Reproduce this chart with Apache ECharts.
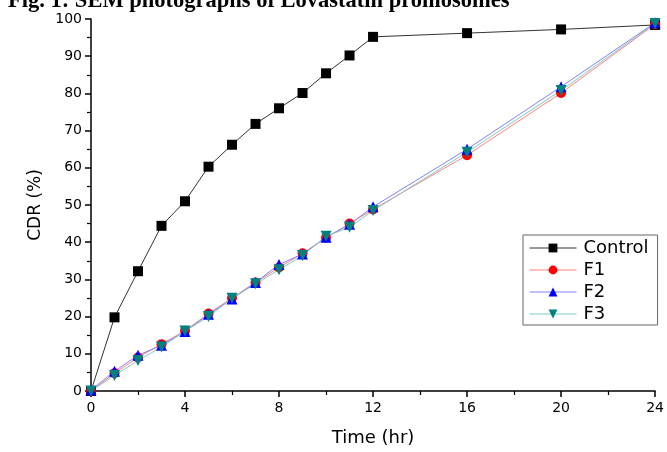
<!DOCTYPE html>
<html>
<head>
<meta charset="utf-8">
<script src="https://cdn.jsdelivr.net/npm/echarts@6/dist/echarts.min.js"></script>
<style>html,body{margin:0;padding:0;background:#fff}#c{width:667px;height:452px}</style>
</head>
<body>
<div id="c"></div>
<script>
const times = [0, 1, 2, 3, 4, 5, 6, 7, 8, 9, 10, 11, 12, 16, 20, 24];
const control = [0, 19.8, 32.2, 44.4, 51.0, 60.3, 66.2, 71.8, 76.0, 80.1, 85.4, 90.2, 95.2, 96.2, 97.2, 98.4];
const f1 = [0, 4.8, 9.0, 12.6, 16.2, 20.8, 25.0, 29.2, 33.2, 37.0, 41.2, 45.0, 48.8, 63.4, 80.1, 98.6];
const f2 = [0.3, 5.3, 9.6, 12.3, 16.0, 20.6, 24.7, 29.2, 34.0, 36.8, 41.3, 44.8, 49.5, 65.0, 81.8, 99.0];
const f3 = [0, 4.2, 8.2, 11.8, 16.1, 20.0, 24.9, 28.8, 32.6, 36.4, 41.6, 44.0, 48.5, 64.2, 80.8, 98.8];
const seriesNames = ['Control', 'F1', 'F2', 'F3'];
const titleText = 'Fig. 1: SEM photographs of Lovastatin proniosomes';

const FONT = '"DejaVu Sans", Verdana, sans-serif';
const pairs = arr => times.map((t, i) => [t, arr[i]]);
const styles = [
  {line: '#333333', mark: '#000000', symbol: 'rect', size: 10},
  {line: '#ff8080', mark: '#ff0000', symbol: 'circle', size: 10},
  {line: '#8080ff', mark: '#0000ff', symbol: 'triangle', size: 11},
  {line: '#80c8c0', mark: '#008080', symbol: 'path://M0,0 L10,0 L5,9 Z', size: 11}
];
const datas = [control, f1, f2, f3];

const chart = echarts.init(document.getElementById('c'), null, {renderer: 'canvas'});
chart.setOption({
  animation: false,
  backgroundColor: '#fff',
  grid: {left: 91, right: 11, top: 19, bottom: 57},
  graphic: [{
    type: 'text', left: 8, top: -10,
    style: {text: titleText, font: 'bold 22.5px "Liberation Serif", "Times New Roman", serif', fill: '#000'}
  }],
  legend: {
    orient: 'vertical',
    left: 523, top: 235,
    padding: [4, 9, 2, 6],
    itemWidth: 47, itemHeight: 11, itemGap: 4,
    borderColor: '#666', borderWidth: 1,
    backgroundColor: '#fff',
    lineStyle: {width: 1},
    textStyle: {fontFamily: FONT, fontSize: 18, color: '#000', padding: [0, 0, 0, 2]},
    data: seriesNames
  },
  xAxis: {
    type: 'value', min: 0, max: 24, interval: 4,
    name: 'Time (hr)', nameLocation: 'middle', nameGap: 38,
    nameTextStyle: {fontFamily: FONT, fontSize: 18, color: '#000'},
    axisLine: {show: true, onZero: false, lineStyle: {color: '#000', width: 1.5}},
    axisTick: {show: true, inside: false, length: 6, lineStyle: {color: '#000', width: 1.5}},
    minorTick: {show: true, splitNumber: 2, length: 4, lineStyle: {color: '#000', width: 1.2}},
    axisLabel: {fontFamily: FONT, fontSize: 14, color: '#000', margin: 10},
    splitLine: {show: false}
  },
  yAxis: {
    type: 'value', min: 0, max: 100, interval: 10,
    name: 'CDR (%)', nameLocation: 'middle', nameGap: 47,
    nameTextStyle: {fontFamily: FONT, fontSize: 17, color: '#000'},
    axisLine: {show: true, onZero: false, lineStyle: {color: '#000', width: 1.5}},
    axisTick: {show: true, inside: false, length: 6, lineStyle: {color: '#000', width: 1.5}},
    minorTick: {show: true, splitNumber: 2, length: 4, lineStyle: {color: '#000', width: 1.2}},
    axisLabel: {fontFamily: FONT, fontSize: 14, color: '#000', margin: 9},
    splitLine: {show: false}
  },
  series: seriesNames.map((n, i) => ({
    name: n, type: 'line', data: pairs(datas[i]),
    symbol: styles[i].symbol, symbolSize: styles[i].size,
    showAllSymbol: true,
    lineStyle: {color: styles[i].line, width: 1},
    itemStyle: {color: styles[i].mark, borderWidth: 0},
    emphasis: {disabled: true}
  }))
});
</script>
</body>
</html>
